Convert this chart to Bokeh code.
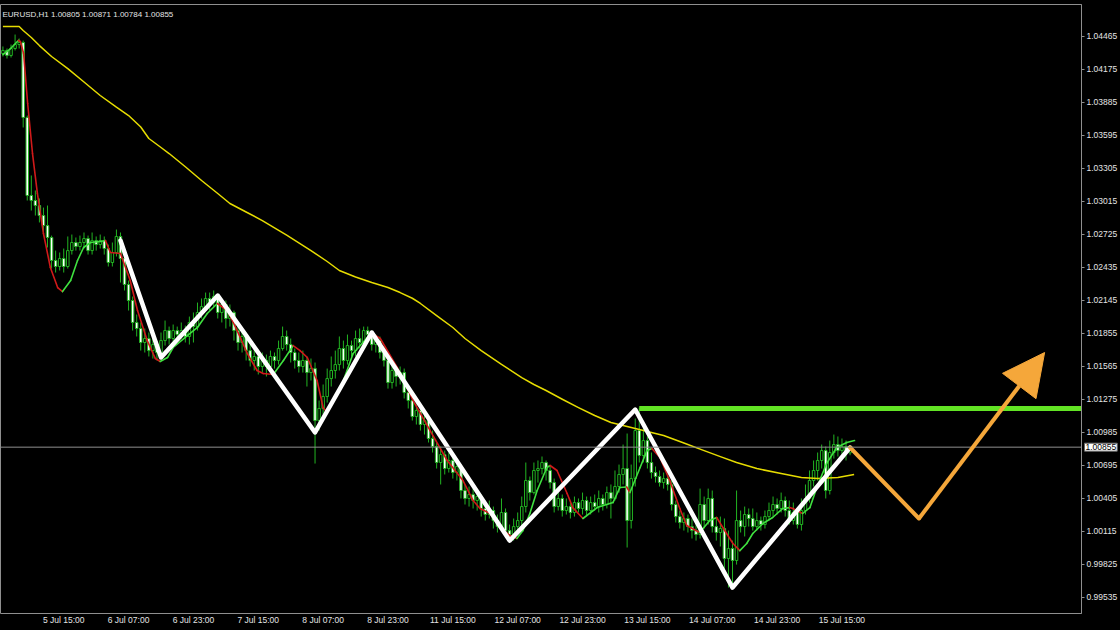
from bokeh.plotting import figure
from bokeh.models import (Range1d, FixedTicker, PrintfTickFormatter, Label, Arrow,
                          NormalHead, Span, ColumnDataSource)
from bokeh.embed import file_html
from bokeh.resources import INLINE

# ---------------- data (EURUSD H1) ----------------
symbol = "EURUSD,H1"
bar_index = list(range(-10, 200))          # bar 0 = 5 Jul 15:00
first_open = 1.04315

closes = [
    1.04342, 1.04298, 1.04359, 1.04394, 1.04412, 1.03753, 1.03067, 1.03023, 1.02979, 1.02891,
    1.02803, 1.02698, 1.02496, 1.02443, 1.02513, 1.02443, 1.02583, 1.02654, 1.02619, 1.02654,
    1.02689, 1.02583, 1.02671, 1.02636, 1.02671, 1.02601, 1.02478, 1.02566, 1.02707, 1.02513,
    1.02285, 1.02144, 1.01951, 1.01898, 1.01775, 1.01810, 1.01704, 1.01757, 1.01687, 1.01792,
    1.01880, 1.01810, 1.01880, 1.01845, 1.01880, 1.01828, 1.01951, 1.01915, 1.02039, 1.02091,
    1.02162, 1.02126, 1.02179, 1.02039, 1.02109, 1.01986, 1.02039, 1.01880, 1.01775, 1.01828,
    1.01704, 1.01617, 1.01652, 1.01564, 1.01617, 1.01564, 1.01652, 1.01617, 1.01722, 1.01828,
    1.01757, 1.01687, 1.01617, 1.01564, 1.01617, 1.01511, 1.01546, 1.01089, 1.01195, 1.01300,
    1.01458, 1.01529, 1.01581, 1.01722, 1.01617, 1.01748, 1.01704, 1.01810, 1.01775, 1.01880,
    1.01845, 1.01757, 1.01792, 1.01687, 1.01617, 1.01423, 1.01529, 1.01476, 1.01511, 1.01335,
    1.01265, 1.01124, 1.01177, 1.01054, 1.01089, 1.00931, 1.00861, 1.00720, 1.00790, 1.00667,
    1.00738, 1.00632, 1.00685, 1.00474, 1.00404, 1.00439, 1.00386, 1.00421, 1.00316, 1.00263,
    1.00298, 1.00210, 1.00157, 1.00281, 1.00122, 1.00087, 1.00157, 1.00210, 1.00333, 1.00562,
    1.00456, 1.00650, 1.00667, 1.00720, 1.00650, 1.00544, 1.00333, 1.00404, 1.00298, 1.00333,
    1.00281, 1.00368, 1.00316, 1.00386, 1.00298, 1.00368, 1.00333, 1.00404, 1.00351, 1.00456,
    1.00404, 1.00509, 1.00615, 1.00667, 1.00210, 1.00579, 1.01001, 1.00782, 1.00913, 1.00720,
    1.00632, 1.00597, 1.00544, 1.00579, 1.00527, 1.00351, 1.00245, 1.00193, 1.00228, 1.00157,
    1.00122, 1.00087, 1.00351, 1.00210, 1.00404, 1.00157, 1.00105, 1.00140, 0.99876, 0.99964,
    0.99859, 1.00210, 1.00157, 1.00263, 1.00228, 1.00157, 1.00210, 1.00175, 1.00245, 1.00298,
    1.00351, 1.00316, 1.00386, 1.00298, 1.00210, 1.00281, 1.00175, 1.00298, 1.00404, 1.00562,
    1.00650, 1.00738, 1.00825, 1.00474, 1.00808, 1.00878, 1.00825, 1.00861, 1.00805, 1.00855,
]

highs = [
    1.04377, 1.04359, 1.04394, 1.04482, 1.04447, 1.04429, 1.03770, 1.03243, 1.03111, 1.03041,
    1.02961, 1.02979, 1.02715, 1.02583, 1.02566, 1.02601, 1.02707, 1.02724, 1.02698, 1.02715,
    1.02742, 1.02715, 1.02742, 1.02707, 1.02724, 1.02707, 1.02636, 1.02654, 1.02768, 1.02742,
    1.02548, 1.02320, 1.02179, 1.02021, 1.01951, 1.01898, 1.01863, 1.01810, 1.01792, 1.01863,
    1.01968, 1.01915, 1.01933, 1.01915, 1.01951, 1.01924, 1.02003, 1.02039, 1.02126, 1.02162,
    1.02214, 1.02214, 1.02232, 1.02197, 1.02162, 1.02144, 1.02109, 1.02056, 1.01915, 1.01898,
    1.01863, 1.01757, 1.01740, 1.01687, 1.01687, 1.01669, 1.01704, 1.01687, 1.01792, 1.01915,
    1.01880, 1.01810, 1.01722, 1.01687, 1.01704, 1.01652, 1.01634, 1.01599, 1.01265, 1.01406,
    1.01546, 1.01652, 1.01704, 1.01828, 1.01792, 1.01845, 1.01792, 1.01880, 1.01898, 1.01915,
    1.01915, 1.01880, 1.01845, 1.01828, 1.01740, 1.01652, 1.01599, 1.01564, 1.01564, 1.01546,
    1.01388, 1.01300, 1.01230, 1.01195, 1.01142, 1.01107, 1.01001, 1.00896, 1.00861, 1.00825,
    1.00808, 1.00773, 1.00755, 1.00702, 1.00527, 1.00509, 1.00491, 1.00474, 1.00439, 1.00386,
    1.00386, 1.00333, 1.00263, 1.00404, 1.00316, 1.00175, 1.00228, 1.00281, 1.00421, 1.00720,
    1.00597, 1.00720, 1.00738, 1.00773, 1.00738, 1.00685, 1.00579, 1.00474, 1.00439, 1.00404,
    1.00368, 1.00421, 1.00404, 1.00456, 1.00421, 1.00421, 1.00439, 1.00474, 1.00439, 1.00509,
    1.00527, 1.00650, 1.00702, 1.00878, 1.00975, 1.00702, 1.01107, 1.01203, 1.01019, 1.00949,
    1.00808, 1.00685, 1.00650, 1.00632, 1.00615, 1.00562, 1.00386, 1.00298, 1.00281, 1.00263,
    1.00228, 1.00193, 1.00491, 1.00421, 1.00491, 1.00474, 1.00228, 1.00245, 1.00228, 1.00122,
    1.00034, 1.00474, 1.00298, 1.00333, 1.00316, 1.00316, 1.00281, 1.00245, 1.00298, 1.00368,
    1.00421, 1.00404, 1.00456, 1.00421, 1.00386, 1.00368, 1.00316, 1.00404, 1.00527, 1.00650,
    1.00738, 1.00808, 1.00878, 1.00861, 1.00913, 1.00966, 1.00949, 1.00931, 1.00913, 1.00871,
]

lows = [
    1.04289, 1.04271, 1.04280, 1.04342, 1.04359, 1.03665, 1.03023, 1.02935, 1.02891, 1.02830,
    1.02742, 1.02610, 1.02425, 1.02390, 1.02408, 1.02390, 1.02425, 1.02548, 1.02583, 1.02583,
    1.02601, 1.02548, 1.02548, 1.02583, 1.02601, 1.02548, 1.02443, 1.02443, 1.02531, 1.02302,
    1.02232, 1.02056, 1.01880, 1.01828, 1.01704, 1.01687, 1.01652, 1.01634, 1.01617, 1.01634,
    1.01748, 1.01757, 1.01775, 1.01792, 1.01810, 1.01775, 1.01757, 1.01775, 1.01880, 1.01986,
    1.02056, 1.02056, 1.02091, 1.01986, 1.01951, 1.01898, 1.01915, 1.01792, 1.01704, 1.01687,
    1.01617, 1.01564, 1.01529, 1.01494, 1.01511, 1.01476, 1.01529, 1.01546, 1.01581, 1.01704,
    1.01704, 1.01599, 1.01546, 1.01511, 1.01511, 1.01388, 1.01441, 1.00711, 1.01001, 1.01142,
    1.01247, 1.01388, 1.01458, 1.01529, 1.01546, 1.01581, 1.01652, 1.01652, 1.01722, 1.01740,
    1.01792, 1.01704, 1.01687, 1.01634, 1.01564, 1.01370, 1.01370, 1.01388, 1.01406, 1.01283,
    1.01195, 1.01089, 1.01054, 1.01001, 1.00966, 1.00896, 1.00808, 1.00667, 1.00527, 1.00615,
    1.00632, 1.00579, 1.00562, 1.00404, 1.00351, 1.00333, 1.00316, 1.00298, 1.00245, 1.00210,
    1.00228, 1.00140, 1.00105, 1.00122, 1.00070, 1.00017, 1.00034, 1.00105, 1.00157, 1.00281,
    1.00386, 1.00439, 1.00544, 1.00615, 1.00562, 1.00491, 1.00281, 1.00298, 1.00245, 1.00263,
    1.00228, 1.00245, 1.00281, 1.00263, 1.00245, 1.00263, 1.00298, 1.00281, 1.00298, 1.00316,
    1.00228, 1.00386, 1.00456, 1.00527, 0.99973, 1.00140, 1.00509, 1.00720, 1.00720, 1.00667,
    1.00579, 1.00544, 1.00509, 1.00491, 1.00474, 1.00298, 1.00193, 1.00140, 1.00122, 1.00105,
    1.00052, 1.00034, 1.00052, 1.00140, 1.00175, 1.00105, 1.00034, 0.99982, 0.99771, 0.99621,
    0.99639, 0.99823, 1.00105, 1.00070, 1.00157, 1.00122, 1.00122, 1.00122, 1.00140, 1.00210,
    1.00245, 1.00263, 1.00281, 1.00245, 1.00175, 1.00175, 1.00140, 1.00122, 1.00263, 1.00368,
    1.00509, 1.00562, 1.00667, 1.00404, 1.00439, 1.00755, 1.00773, 1.00773, 1.00738, 1.00784,
]

opens = [first_open] + closes[:-1]   # each hourly bar opens at the previous close

# slow moving average (yellow), read at sample bars
ma_slow_idx = [-10, -6, -5, -3, -1, 2, 6, 10, 14, 18, 21, 24, 26, 29, 31, 35, 39, 43, 46,
               50, 54, 60, 66, 70, 73, 77, 81, 85, 88, 91, 93, 97, 101, 104, 108, 113, 118,
               121, 124, 128, 132, 136, 140, 145, 149, 153, 158, 163, 167, 171, 176, 182,
               187, 191, 196, 200]
ma_slow = [1.04552, 1.04552, 1.04517, 1.04456, 1.04385, 1.04289, 1.04183, 1.04065,
           1.03946, 1.03843, 1.03770, 1.03669, 1.03568, 1.03489, 1.03436, 1.03320,
           1.03199, 1.03085, 1.02997, 1.02922, 1.02847, 1.02718, 1.02583, 1.02487,
           1.02408, 1.02351, 1.02302, 1.02258, 1.02214, 1.02164, 1.02118, 1.02012,
           1.01907, 1.01810, 1.01704, 1.01582, 1.01467, 1.01406, 1.01353, 1.01276,
           1.01203, 1.01133, 1.01072, 1.01028, 1.00993, 1.00957, 1.00892, 1.00825,
           1.00772, 1.00720, 1.00667, 1.00623, 1.00588, 1.00579, 1.00588, 1.00615]

# fast smoothed moving average (green rising / red falling)
ma_fast_idx = [-10, -8.1, -6.2, -5.7, -4.9, -3.9, -2.7, -1.5, 0, 1.7, 3.5, 4.7, 6.7, 8.4,
               9.9, 11.6, 14, 15.3, 16.5, 19, 21.4, 23.2, 25.6, 27.6, 28.8, 30.6, 32, 35.5,
               38, 40.4, 42.9, 43.6, 45.4, 47.8, 50.3, 52.7, 54.2, 56.7, 59.2, 61.6, 63.3,
               65.1, 67.5, 69, 70, 71.5, 74, 76.4, 79.9, 81.1, 83.1, 87.3, 91.2, 95.4, 99.6,
               103.5, 106, 107.7, 110.2, 112.6, 115.1, 116.8, 118.3, 120, 121.8, 124.2, 125,
               126.7, 129.2, 130.6, 133.1, 136.6, 140.5, 142.2, 143.9, 144.7, 147.2, 148.9,
               150.1, 152.1, 154.5, 157, 158.7, 161.9, 164.4, 166.1, 167.6, 170.1, 171.8,
               173.5, 175, 177.5, 179.9, 182.4, 184.1, 184.9, 187.3, 189.1, 190.8, 193.2,
               195.7, 198.2, 200.1]
ma_fast = [1.04306, 1.04359, 1.04430, 1.04421, 1.04315, 1.03876, 1.03436, 1.03085, 1.02733,
           1.02434, 1.02258, 1.02223, 1.02320, 1.02496, 1.02610, 1.02654, 1.02663, 1.02671,
           1.02566, 1.02557, 1.02320, 1.02056, 1.01792, 1.01634, 1.01608, 1.01643, 1.01731,
           1.01836, 1.01907, 1.02030, 1.02118, 1.02100, 1.02056, 1.01880, 1.01678, 1.01529,
           1.01502, 1.01494, 1.01617, 1.01748, 1.01704, 1.01643, 1.01441, 1.01203, 1.01160,
           1.01265, 1.01441, 1.01678, 1.01819, 1.01854, 1.01810, 1.01555, 1.01265, 1.01001,
           1.00738, 1.00562, 1.00386, 1.00316, 1.00272, 1.00149, 1.00078, 1.00052, 1.00122,
           1.00272, 1.00474, 1.00676, 1.00694, 1.00650, 1.00448, 1.00324, 1.00228, 1.00324,
           1.00368, 1.00500, 1.00505, 1.00456, 1.00676, 1.00825, 1.00843, 1.00764, 1.00562,
           1.00316, 1.00166, 1.00105, 1.00210, 1.00237, 1.00149, 1.00008, 0.99946, 1.00008,
           1.00096, 1.00184, 1.00237, 1.00316, 1.00324, 1.00316, 1.00272, 1.00324, 1.00500,
           1.00711, 1.00852, 1.00896, 1.00913]

# hand-drawn zigzag (white)
zigzag_idx = [19, 29, 43, 67, 81, 115, 146, 170, 199]
zigzag_price = [1.02671, 1.01643, 1.02188, 1.00984, 1.01863, 1.00034, 1.01186, 0.99621, 1.00852]

# resistance (green) and projection (orange)
resistance_level = 1.01195
resistance_start = 147
proj_idx = [199, 216, 247]
proj_price = [1.00852, 1.00228, 1.01687]

# axes
price_ticks = [1.04465, 1.04175, 1.03885, 1.03595, 1.03305, 1.03015, 1.02725, 1.02435,
               1.02145, 1.01855, 1.01565, 1.01275, 1.00985, 1.00695, 1.00405, 1.00115,
               0.99825, 0.99535]
time_tick_bars = [0, 16, 32, 48, 64, 80, 96, 112, 128, 144, 160, 176, 192]
time_tick_labels = ["5 Jul 15:00", "6 Jul 07:00", "6 Jul 23:00", "7 Jul 15:00",
                    "8 Jul 07:00", "8 Jul 23:00", "11 Jul 15:00", "12 Jul 07:00",
                    "12 Jul 23:00", "13 Jul 15:00", "14 Jul 07:00", "14 Jul 23:00",
                    "15 Jul 15:00"]

# ---------------- styling ----------------
BG = "#000000"
CANDLE = "#22b422"
FAST_UP = "#3fe03f"
FAST_DN = "#d01a1a"
SLOW = "#e6dc00"
ORANGE = "#f5a73a"
LEVEL = "#62e324"
GREYLINE = "#8f8f8f"
TXT = "#e4e4e4"
FONT = "Liberation Sans"

p = figure(width=1120, height=630, output_backend="svg", toolbar_location=None,
           x_range=Range1d(-10.6, 256.1), y_range=Range1d(0.99393, 1.04746),
           background_fill_color=BG, border_fill_color=BG,
           min_border_left=0, min_border_right=38, min_border_top=4, min_border_bottom=17,
           y_axis_location="right")
p.outline_line_color = GREYLINE
p.grid.visible = False

# y axis (right)
ya = p.yaxis[0]
ya.ticker = FixedTicker(ticks=price_ticks)
ya.formatter = PrintfTickFormatter(format="%.5f")
ya.axis_line_color = GREYLINE
ya.major_tick_line_color = GREYLINE
ya.major_tick_in = 0
ya.major_tick_out = 3
ya.minor_tick_line_color = None
ya.major_label_standoff = 2
ya.major_label_text_color = TXT
ya.major_label_text_font = FONT
ya.major_label_text_font_size = "8.5px"

# x axis (below) - labels start at their time, as in the terminal
LABEL_SHIFT = 5
xa = p.xaxis[0]
xa.ticker = FixedTicker(ticks=[b + LABEL_SHIFT for b in time_tick_bars])
xa.major_label_overrides = {b + LABEL_SHIFT: t for b, t in zip(time_tick_bars, time_tick_labels)}
xa.axis_line_color = None
xa.major_tick_line_color = None
xa.major_tick_in = 0
xa.major_tick_out = 0
xa.minor_tick_line_color = None
xa.major_label_standoff = -7
xa.major_label_text_color = TXT
xa.major_label_text_font = FONT
xa.major_label_text_font_size = "8.5px"

# current price line
p.add_layout(Span(location=closes[-1], dimension="width", line_color=GREYLINE, line_width=1))

# candles
src = ColumnDataSource(dict(
    x=bar_index, o=opens, h=highs, l=lows, c=closes,
    top=[max(o, c) for o, c in zip(opens, closes)],
    bottom=[min(o, c) for o, c in zip(opens, closes)],
    fill=["#000000" if c > o else "#ffffff" for o, c in zip(opens, closes)],
))
p.segment(x0="x", y0="h", x1="x", y1="l", source=src, line_color=CANDLE, line_width=1)
p.vbar(x="x", width=0.62, top="top", bottom="bottom", source=src,
       fill_color="fill", line_color=CANDLE, line_width=1)

# moving averages
p.line(ma_slow_idx, ma_slow, line_color=SLOW, line_width=1.5, line_join="round")
fast_colors = [FAST_UP if b > a else FAST_DN for a, b in zip(ma_fast[:-1], ma_fast[1:])]
p.segment(x0=ma_fast_idx[:-1], y0=ma_fast[:-1], x1=ma_fast_idx[1:], y1=ma_fast[1:],
          line_color=fast_colors, line_width=1.6, line_cap="round")

# resistance level
p.ray(x=[resistance_start], y=[resistance_level], length=0, angle=0,
      line_color=LEVEL, line_width=5)

# zigzag
p.line(zigzag_idx, zigzag_price, line_color="#ffffff", line_width=4.5, line_join="round",
       line_cap="round")

# projection
p.line(proj_idx[:2], proj_price[:2], line_color=ORANGE, line_width=4, line_join="round",
       line_cap="round")
p.add_layout(Arrow(end=NormalHead(size=42, fill_color=ORANGE, line_color=ORANGE),
                   x_start=proj_idx[1], y_start=proj_price[1],
                   x_end=proj_idx[2], y_end=proj_price[2],
                   line_color=ORANGE, line_width=4))

# header text
p.add_layout(Label(x=2, y=599, x_units="screen", y_units="screen",
                   text=f"{symbol}  {opens[-1]:.5f} {highs[-1]:.5f} {lows[-1]:.5f} {closes[-1]:.5f}",
                   text_color=TXT, text_font=FONT, text_font_size="8px",
                   text_baseline="middle"))

# current price box on the price scale: lives in a side panel (next to the frame,
# before the time axis) so that it is not clipped by the frame
price_box = Label(x=1084, y=closes[-1], x_units="screen", y_units="data",
                  text=f"{closes[-1]:.5f}", text_color="#000000", text_font=FONT,
                  text_font_size="8.5px", text_baseline="middle",
                  background_fill_color="#ffffff", border_line_color="#666666",
                  padding=1)
p.below.insert(0, price_box)

html = file_html(p, INLINE, title=symbol)
html = html.replace("<head>", "<head><style>html,body{margin:0;padding:0;overflow:hidden;background:#000;}</style>", 1)
open("out.html", "w").write(html)
